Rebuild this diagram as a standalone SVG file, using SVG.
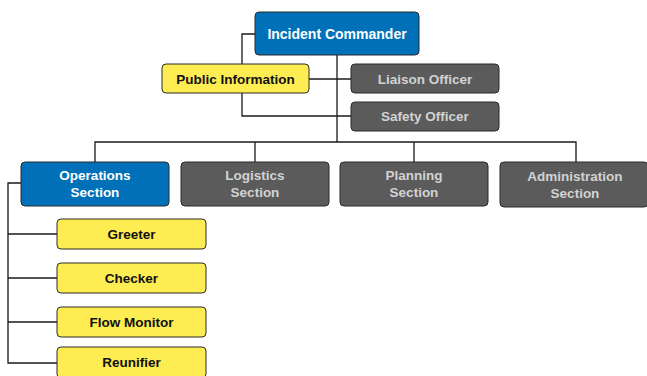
<svg xmlns="http://www.w3.org/2000/svg" width="647" height="376" viewBox="0 0 647 376">
<style>
.box{stroke:#2b2b2b;stroke-width:1}
.blue{fill:#0071b9}
.gray{fill:#5b5b5b}
.yel{fill:#fdec52}
text{font-family:"Liberation Sans",Arial,Helvetica,sans-serif;font-weight:bold;font-size:13.5px;text-anchor:middle}
.tw{fill:#ffffff}
.tg{fill:#d2d2d2}
.tk{fill:#111111}
.conn{fill:none;stroke:#1a1a1a;stroke-width:1.3}
</style>
<rect width="647" height="376" fill="#ffffff"/>
<g id="connectors" class="conn">
<path d="M337 55 V142"/>
<path d="M255 34 H242 V64"/>
<path d="M242 93 V116 H351"/>
<path d="M309 79 H351"/>
<path d="M95 162 V142 H576 V162"/>
<path d="M255 142 V162"/>
<path d="M414 142 V162"/>
<path d="M21 183 H8 V363 H57"/>
<path d="M8 234 H57"/>
<path d="M8 278 H57"/>
<path d="M8 322 H57"/>
</g>
<g id="incident-commander"><rect class="box blue" x="255" y="12" width="164" height="43" rx="4"/><text class="tw" x="337" y="39" style="font-size:14px">Incident Commander</text></g>
<g id="public-information"><rect class="box yel" x="162" y="64" width="147" height="29" rx="4"/><text class="tk" x="235.5" y="84">Public Information</text></g>
<g id="liaison-officer"><rect class="box gray" x="351" y="64" width="148" height="29" rx="4"/><text class="tg" x="425" y="84">Liaison Officer</text></g>
<g id="safety-officer"><rect class="box gray" x="351" y="102" width="148" height="29" rx="4"/><text class="tg" x="425" y="121">Safety Officer</text></g>
<g id="operations-section"><rect class="box blue" x="21" y="162" width="148" height="44" rx="4"/><text class="tw" x="95" y="180">Operations</text><text class="tw" x="95" y="197">Section</text></g>
<g id="logistics-section"><rect class="box gray" x="181" y="162" width="148" height="44" rx="4"/><text class="tg" x="255" y="180">Logistics</text><text class="tg" x="255" y="197">Section</text></g>
<g id="planning-section"><rect class="box gray" x="340" y="162" width="148" height="44" rx="4"/><text class="tg" x="414" y="180">Planning</text><text class="tg" x="414" y="197">Section</text></g>
<g id="administration-section"><rect class="box gray" x="500" y="162" width="148" height="45" rx="4"/><text class="tg" x="575" y="181">Administration</text><text class="tg" x="575" y="198">Section</text></g>
<g id="greeter"><rect class="box yel" x="57" y="219" width="149" height="30" rx="4"/><text class="tk" x="131.5" y="239">Greeter</text></g>
<g id="checker"><rect class="box yel" x="57" y="263" width="149" height="30" rx="4"/><text class="tk" x="131.5" y="283">Checker</text></g>
<g id="flow-monitor"><rect class="box yel" x="57" y="307" width="149" height="30" rx="4"/><text class="tk" x="131.5" y="327">Flow Monitor</text></g>
<g id="reunifier"><rect class="box yel" x="57" y="347" width="149" height="31" rx="4"/><text class="tk" x="131.5" y="367">Reunifier</text></g>
</svg>
